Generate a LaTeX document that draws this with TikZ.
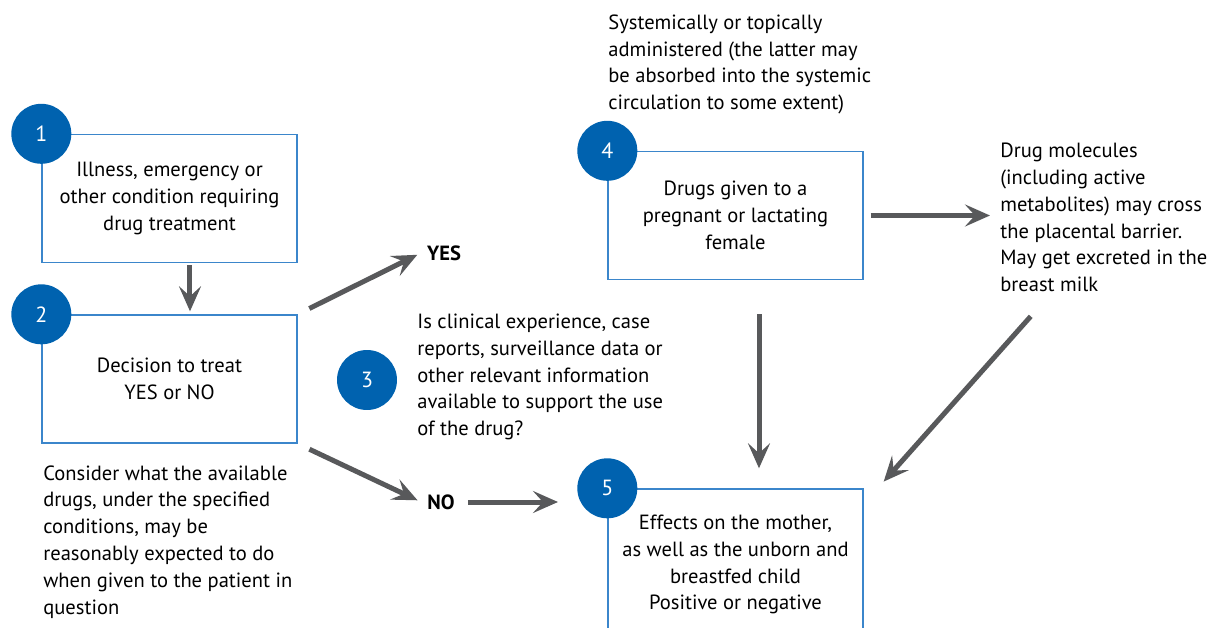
\documentclass[tikz,border=0pt]{standalone}
\usepackage{fontspec}
\setmainfont{PT Sans}
\usetikzlibrary{arrows.meta}
\definecolor{numblue}{HTML}{0062AF}
\definecolor{boxblue}{HTML}{3B86CB}
\definecolor{arrgray}{HTML}{58595B}

\begin{document}
\begin{tikzpicture}[x=0.02cm,y=-0.02cm,every node/.style={font=\fontsize{11.7}{15.3}\selectfont},box/.style={draw=boxblue,line width=0.8pt,minimum width=5.1cm,minimum height=2.56cm,align=center,inner sep=0pt},num/.style={circle,fill=numblue,text=white,minimum size=1.2cm,inner sep=0pt,font=\fontsize{12.5}{15}\selectfont},txt/.style={align=left,inner sep=0pt,anchor=west},arr/.style={draw=arrgray,line width=0.1cm,-{Stealth[length=0.5cm,width=0.44cm,inset=0.2cm]}}]
	\useasboundingbox (0,0) rectangle (1210,628);
	\clip (0,0) rectangle (1210,628);
	\node[box] (b1) at (169.5,198.5) {Illness, emergency or\\other condition requiring\\drug treatment};
	\node[box] (b2) at (169.5,379) {Decision to treat\\YES or NO};
	\node[box] (b4) at (735.5,215.5) {Drugs given to a\\pregnant or lactating\\female};
	\node[box,minimum height=3.02cm] (b5) at (735.5,564.5) {Effects on the mother,\\as well as the unborn and\\breastfed child\\Positive or negative};
	\node[num] (n1) at (b1.north west) {1};
	\node[num] (n2) at (b2.north west) {2};
	\node[num] (n3) at (367,380) {3};
	\node[num] (n4) at (b4.north west) {4};
	\node[num] (n5) at (b5.north west) {5};
	\node[txt] (cons) at (43,542) {Consider what the available\\drugs, under the specified\\conditions, may be\\reasonably expected to do\\when given to the patient in\\question};
	\node[txt] (q3) at (417,377) {Is clinical experience, case\\reports, surveillance data or\\other relevant information\\available to support the use\\of the drug?};
	\node[txt] (sys) at (608,64.5) {Systemically or topically\\administered (the latter may\\be absorbed into the systemic\\circulation to some extent)};
	\node[txt] (dm) at (1000,217.5) {Drug molecules\\(including active\\metabolites) may cross\\the placental barrier.\\May get excreted in the\\breast milk};
	\node[font=\fontsize{11.7}{15.3}\selectfont\bfseries] (yes) at (444,253) {YES};
	\node[font=\fontsize{11.7}{15.3}\selectfont\bfseries] (no) at (441,502) {NO};
	\draw[arr,shorten <=0.04cm,shorten >=0.06cm] ([xshift=0.41cm]b1.south) -- ([xshift=0.41cm]b2.north);
	\draw[arr,shorten <=0.26cm,shorten >=0.08cm] (b2.north east) -- (yes.west);
	\draw[arr,shorten <=0.26cm,shorten >=0.08cm] (b2.south east) -- (no.west);
	\draw[arr,shorten <=0.14cm,shorten >=0.38cm] (no.east) -- (no.east -| n5.west);
	\draw[arr,shorten <=0.14cm,shorten >=0.2cm] (b4.east) -- (b4.east -| dm.west);
	\draw[arr,shorten <=0.68cm,shorten >=0.4cm] ([xshift=0.47cm]b4.south) -- ([xshift=0.47cm]b5.north);
	\draw[arr,shorten <=0.64cm,shorten >=0.18cm] ([xshift=1.04cm]dm.south west) -- ([xshift=0.28cm]b5.north east);
\end{tikzpicture}
\end{document}
